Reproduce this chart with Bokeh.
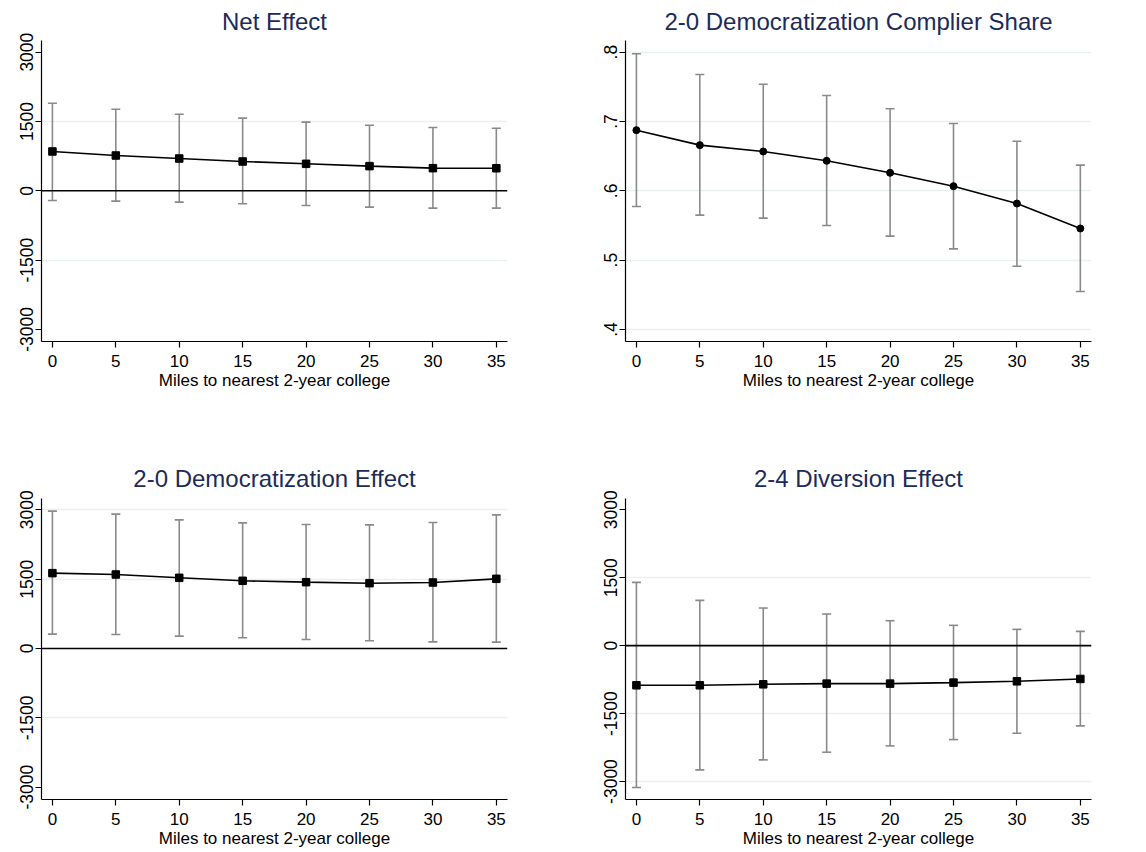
from bokeh.plotting import figure
from bokeh.layouts import gridplot
from bokeh.models import FixedTicker, Span, CustomJSTickFormatter, Range1d, ColumnDataSource, Whisker, TeeHead
from bokeh.embed import file_html
from bokeh.resources import INLINE

miles = [0, 5, 10, 15, 20, 25, 30, 35]

net_est = [851, 764, 699, 634, 584, 534, 490, 488]
net_hi = [1896, 1766, 1658, 1572, 1485, 1420, 1370, 1355]
net_lo = [-209, -224, -245, -281, -317, -353, -375, -375]

share_est = [0.6875, 0.6659, 0.6567, 0.6433, 0.6260, 0.6067, 0.5817, 0.5457]
share_hi = [0.7976, 0.7678, 0.7538, 0.7375, 0.7183, 0.6971, 0.6716, 0.6370]
share_lo = [0.5774, 0.5649, 0.5606, 0.5500, 0.5346, 0.5163, 0.4913, 0.4548]

dem_est = [1630, 1601, 1529, 1464, 1435, 1413, 1428, 1507]
dem_hi = [2971, 2906, 2783, 2718, 2682, 2675, 2725, 2891]
dem_lo = [310, 303, 267, 231, 195, 166, 144, 137]

div_est = [-875, -875, -853, -838, -838, -816, -787, -735]
div_hi = [1397, 1000, 831, 699, 551, 449, 360, 316]
div_lo = [-3132, -2743, -2522, -2353, -2213, -2074, -1934, -1772]

titles = ["Net Effect", "2-0 Democratization Complier Share",
          "2-0 Democratization Effect", "2-4 Diversion Effect"]
x_label = "Miles to nearest 2-year college"
money_ticks = [-3000, -1500, 0, 1500, 3000]
share_ticks = [0.4, 0.5, 0.6, 0.7, 0.8]

FONT = "Liberation Sans"
TITLE_C = "#1c2b5a"
GRID_C = "#e8f0f2"
BAR_C = "#8a8a8a"


def panel(title, est, hi, lo, yr, ticks, grid_ticks, marker, zero_line,
          width, height, bl, br, bt, bb, title_standoff, share=False):
    p = figure(width=width, height=height, output_backend="svg", toolbar_location=None,
               x_range=Range1d(-0.86, 35.88), y_range=Range1d(*yr),
               min_border_left=bl, min_border_right=br, min_border_top=bt, min_border_bottom=bb)
    p.outline_line_color = None
    p.background_fill_color = "white"
    p.border_fill_color = "white"
    p.title.text = title
    p.title.align = "center"
    p.title.text_font = FONT
    p.title.text_font_size = "24px"
    p.title.text_font_style = "normal"
    p.title.text_color = TITLE_C
    p.title.standoff = title_standoff
    p.xgrid.visible = False
    p.ygrid.ticker = FixedTicker(ticks=grid_ticks)
    p.ygrid.grid_line_color = GRID_C
    p.ygrid.grid_line_width = 1.5

    p.xaxis.ticker = FixedTicker(ticks=miles)
    p.yaxis.ticker = FixedTicker(ticks=ticks)
    if share:
        p.yaxis.formatter = CustomJSTickFormatter(code="return tick.toFixed(1).replace(/^0/, '');")
    else:
        p.yaxis.formatter = CustomJSTickFormatter(code="return Math.round(tick).toString();")
    for ax in (p.xaxis[0], p.yaxis[0]):
        ax.axis_line_color = "black"
        ax.axis_line_width = 1.2
        ax.major_tick_line_color = "black"
        ax.major_tick_line_width = 1.2
        ax.major_tick_out = 6
        ax.major_tick_in = 0
        ax.minor_tick_line_color = None
        ax.major_label_text_font = FONT
        ax.major_label_text_color = "black"
    p.xaxis.major_label_text_font_size = "17px"
    p.yaxis.major_label_text_font_size = "17.5px"
    p.xaxis.major_label_standoff = 7
    p.yaxis.major_label_standoff = 2
    p.yaxis.major_label_orientation = "vertical"
    p.xaxis.axis_label = x_label
    p.xaxis.axis_label_text_font = FONT
    p.xaxis.axis_label_text_font_size = "17px"
    p.xaxis.axis_label_text_font_style = "normal"
    p.xaxis.axis_label_text_color = "black"
    p.xaxis.axis_label_standoff = 1

    if zero_line:
        p.add_layout(Span(location=0, dimension="width", line_color="black", line_width=1.6))

    src = ColumnDataSource(dict(x=miles, est=est, hi=hi, lo=lo))
    w = Whisker(base="x", upper="hi", lower="lo", source=src, line_color=BAR_C, line_width=1.6)
    w.upper_head = TeeHead(size=9, line_color=BAR_C, line_width=1.6)
    w.lower_head = TeeHead(size=9, line_color=BAR_C, line_width=1.6)
    p.add_layout(w)
    p.line("x", "est", source=src, line_color="black", line_width=1.6)
    if marker == "square":
        p.scatter("x", "est", source=src, marker="square", size=7.5, fill_color="black", line_color="black")
    else:
        p.scatter("x", "est", source=src, marker="circle", size=7, fill_color="black", line_color="black")
    return p


p1 = panel(titles[0], net_est, net_hi, net_lo, (-3260, 3252), money_ticks, [-1500, 1500],
           "square", True, 573, 434, 41, 66, 40, 93, 11)
p2 = panel(titles[1], share_est, share_hi, share_lo, (0.3827, 0.8168), share_ticks, share_ticks,
           "circle", False, 573, 434, 52, 55, 40, 93, 11, share=True)
p3 = panel(titles[2], dem_est, dem_hi, dem_lo, (-3267, 3245), money_ticks, [-1500, 1500, 3000],
           "square", True, 573, 418, 41, 66, 64, 53, 13)
p4 = panel(titles[3], div_est, div_hi, div_lo, (-3397, 3250), money_ticks, [-3000, -1500, 1500],
           "square", True, 573, 418, 52, 55, 64, 53, 13)

layout = gridplot([[p1, p2], [p3, p4]], toolbar_location=None)
open("out.html", "w").write(file_html(layout, INLINE))
